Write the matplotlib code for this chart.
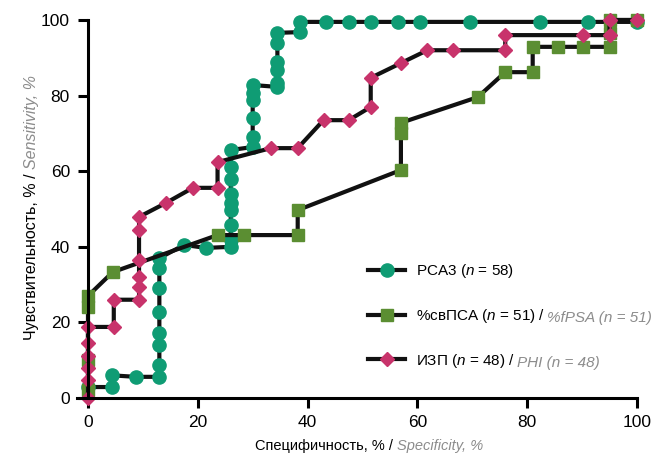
import matplotlib
matplotlib.use("Agg")
import matplotlib.pyplot as plt

# PCA3
pca3_spec = [0, 4.3, 4.3, 8.7, 13, 13, 13, 13, 13, 13, 13, 13, 17.5, 21.5, 26, 26, 26, 26, 26, 26,
             26, 26, 26, 30, 30, 30, 30, 30, 30, 34.5, 34.5, 34.5, 34.5, 34.5, 34.5, 38.7, 38.7,
             43.3, 47.5, 51.5, 56.4, 60.5, 69.6, 82.4, 91, 100]
pca3_sens = [2.9, 2.9, 6, 5.6, 5.6, 8.7, 14, 17.2, 22.8, 29.1, 34.4, 37, 40.5, 39.7, 40, 41.8, 45.8,
             49.7, 51.6, 54, 58, 61, 65.6, 66.4, 69, 74, 78.8, 80.7, 82.8, 82.3, 83.3, 86.8, 88.9,
             93.9, 96.6, 96.8, 99.5, 99.5, 99.5, 99.5, 99.5, 99.5, 99.5, 99.5, 99.5, 99.5]

# %fPSA
fpsa_spec = [0, 0, 0, 0, 4.5, 23.6, 28.4, 38.2, 38.2, 57, 57, 57, 71, 76, 81, 81, 85.6, 90.2,
             95, 95, 95, 100]
fpsa_sens = [2, 10, 24, 27, 33.3, 43.1, 43.1, 43.1, 49.7, 60.3, 70, 72.8, 79.6, 86.2, 86.2, 92.9,
             92.9, 92.9, 92.9, 96.6, 100, 100]

# PHI
phi_spec = [0, 0, 0, 0, 0, 0, 4.7, 4.7, 9.3, 9.3, 9.3, 9.3, 9.3, 9.3, 14.2, 19.1, 23.6, 23.6,
            33.3, 38.2, 42.9, 47.5, 51.5, 51.5, 57, 61.8, 66.5, 76, 76, 90.2, 95, 95, 100]
phi_sens = [0, 4.8, 8, 11, 14.5, 18.8, 18.8, 26, 26, 29.4, 32, 36.5, 44.4, 47.9, 51.6, 55.6, 55.6,
            62.4, 66.1, 66.1, 73.5, 73.5, 77, 84.7, 88.6, 92, 92, 92, 96, 96, 96, 100, 100]

labels = ["PCA3 ($n$ = 58)", "%свПСА ($n$ = 51) /", "ИЗП ($n$ = 48) /"]
labels_en = [None, "%fPSA (n = 51)", "PHI (n = 48)"]
ticks = [0, 20, 40, 60, 80, 100]

GRAY = "#8c8c8c"

plt.rcParams["font.family"] = ["Liberation Sans", "DejaVu Sans"]
plt.rcParams["mathtext.fontset"] = "custom"
plt.rcParams["mathtext.rm"] = "Liberation Sans"
plt.rcParams["mathtext.it"] = "Liberation Sans:italic"


def main() -> None:
    fig = plt.figure(figsize=(6.56, 4.57), dpi=100)
    ax = fig.add_axes([77 / 656, 1 - 398 / 457, 560 / 656, 378 / 457])

    series = [
        (pca3_spec, pca3_sens, "o", 9.5, "#0f9c74"),
        (fpsa_spec, fpsa_sens, "s", 9, "#5b8e32"),
        (phi_spec, phi_sens, "D", 7, "#c8336b"),
    ]
    for (xs, ys, mk, ms, col), lab in zip(series, labels):
        ax.plot(xs, ys, color="#111111", lw=3, marker=mk, ms=ms, mfc=col, mec=col,
                label=lab, clip_on=False)

    ax.set_xlim(-2, 100)
    ax.set_ylim(0, 100)
    ax.set_xticks(ticks)
    ax.set_yticks(ticks)
    for s in ("top", "right"):
        ax.spines[s].set_visible(False)
    ax.spines["left"].set_position(("data", 0))
    for s in ("left", "bottom"):
        ax.spines[s].set_linewidth(2.2)
    ax.tick_params(width=2.2, length=7, labelsize=12.5)
    ax.tick_params(axis="y", pad=6)
    ax.tick_params(axis="x", pad=5)

    leg = ax.legend(loc="center left", bbox_to_anchor=(0.52, 0.217), frameon=False,
                    borderpad=0, borderaxespad=0, fontsize=11, handlelength=2.4,
                    handletextpad=0.7, labelspacing=1.75)
    for txt, en in zip(leg.get_texts(), labels_en):
        if en:
            ax.annotate(en, xy=(1, 0), xycoords=txt, xytext=(2, 0),
                        textcoords="offset points", va="bottom", ha="left",
                        fontsize=11, color=GRAY, style="italic", zorder=6)

    # axis titles, Russian part in black, English part in gray
    t1 = ax.text(0.572, -0.127, "Специфичность, % / ", transform=ax.transAxes,
                 ha="right", va="center", fontsize=10.5)
    ax.annotate("Specificity, %", xy=(1, 0), xycoords=t1, va="bottom", ha="left",
                fontsize=10.5, color=GRAY, style="italic")
    t2 = ax.text(-0.082, 0.606, "Чувствительность, % / ", transform=ax.transAxes,
                 rotation=90, ha="center", va="top", fontsize=11.5)
    ax.annotate("Sensitivity, %", xy=(0.5, 1), xycoords=t2, va="bottom", ha="center",
                rotation=90, fontsize=11.5, color=GRAY, style="italic")

    fig.savefig("out.png", dpi=100)
    plt.close(fig)


if __name__ == "__main__":
    main()
